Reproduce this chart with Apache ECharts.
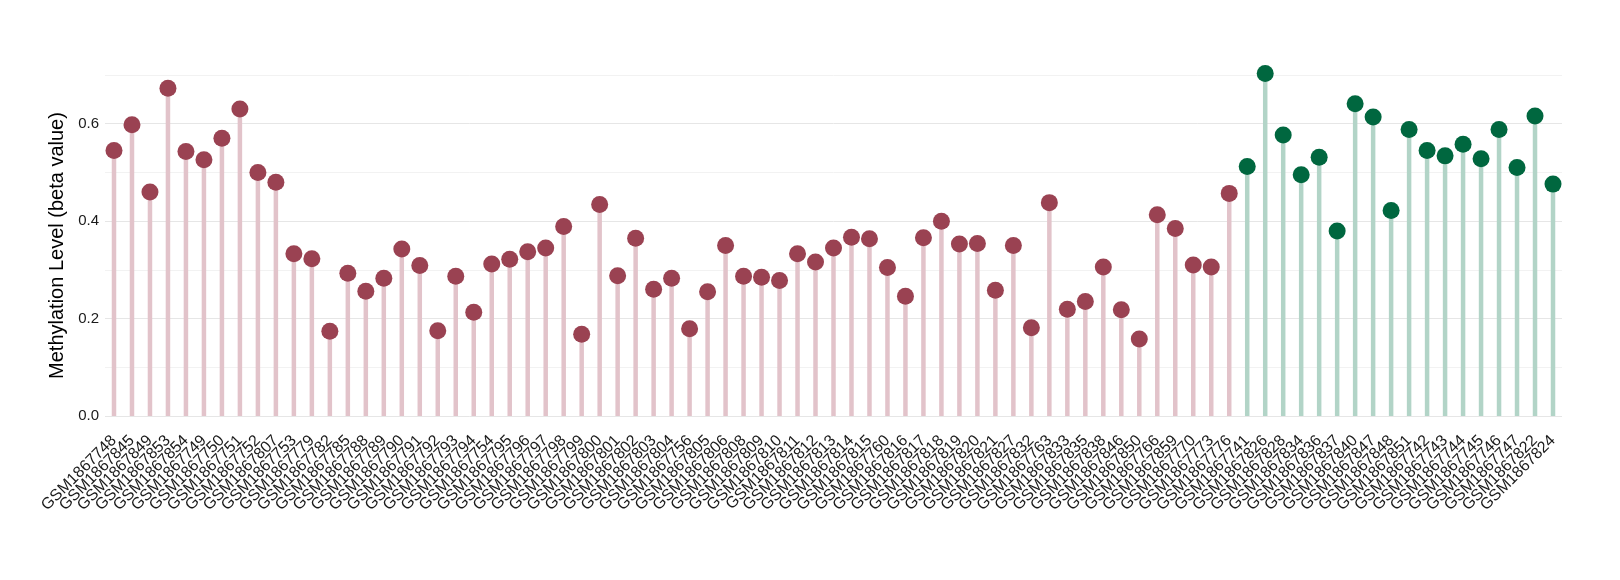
<!DOCTYPE html>
<html>
<head>
<meta charset="utf-8">
<script src="https://cdn.jsdelivr.net/npm/echarts@6/dist/echarts.min.js"></script>
<style>
html,body{margin:0;padding:0;background:#fff;}
#chart{width:1620px;height:580px;}
</style>
</head>
<body>
<div id="chart"></div>
<script>
// Group 1 (red) samples
const groupACategories = ["GSM1867748","GSM1867845","GSM1867849","GSM1867853","GSM1867854","GSM1867749","GSM1867750","GSM1867751","GSM1867752","GSM1867807","GSM1867753","GSM1867779","GSM1867782","GSM1867785","GSM1867788","GSM1867789","GSM1867790","GSM1867791","GSM1867792","GSM1867793","GSM1867794","GSM1867754","GSM1867795","GSM1867796","GSM1867797","GSM1867798","GSM1867799","GSM1867800","GSM1867801","GSM1867802","GSM1867803","GSM1867804","GSM1867756","GSM1867805","GSM1867806","GSM1867808","GSM1867809","GSM1867810","GSM1867811","GSM1867812","GSM1867813","GSM1867814","GSM1867815","GSM1867760","GSM1867816","GSM1867817","GSM1867818","GSM1867819","GSM1867820","GSM1867821","GSM1867827","GSM1867832","GSM1867763","GSM1867833","GSM1867835","GSM1867838","GSM1867846","GSM1867850","GSM1867766","GSM1867859","GSM1867770","GSM1867773","GSM1867776"];
const groupAValues = [0.545,0.598,0.460,0.673,0.543,0.526,0.570,0.630,0.500,0.480,0.333,0.323,0.174,0.293,0.256,0.283,0.343,0.309,0.175,0.287,0.213,0.312,0.322,0.337,0.345,0.389,0.168,0.434,0.288,0.365,0.260,0.283,0.179,0.255,0.350,0.287,0.285,0.278,0.333,0.316,0.345,0.367,0.364,0.305,0.246,0.366,0.400,0.353,0.354,0.258,0.350,0.181,0.438,0.219,0.235,0.306,0.218,0.158,0.413,0.385,0.310,0.306,0.457];
// Group 2 (green) samples
const groupBCategories = ["GSM1867741","GSM1867826","GSM1867828","GSM1867834","GSM1867836","GSM1867837","GSM1867840","GSM1867847","GSM1867848","GSM1867851","GSM1867742","GSM1867743","GSM1867744","GSM1867745","GSM1867746","GSM1867747","GSM1867822","GSM1867824"];
const groupBValues = [0.512,0.703,0.577,0.495,0.531,0.380,0.641,0.614,0.422,0.588,0.545,0.534,0.558,0.528,0.588,0.510,0.616,0.476];

const colors = {
  A: {dot: '#9a4252', stem: '#e2c3ca'},
  B: {dot: '#00673f', stem: '#b2d4c7'}
};

const categories = groupACategories.concat(groupBCategories);
const stemData = [], dotData = [];
groupAValues.forEach(v => {
  stemData.push({value: v, itemStyle: {color: colors.A.stem}});
  dotData.push({value: v, itemStyle: {color: colors.A.dot, opacity: 1}});
});
groupBValues.forEach(v => {
  stemData.push({value: v, itemStyle: {color: colors.B.stem}});
  dotData.push({value: v, itemStyle: {color: colors.B.dot, opacity: 1}});
});

const chart = echarts.init(document.getElementById('chart'), null, {renderer: 'canvas'});
const font = 'Liberation Sans, Arial, Helvetica, sans-serif';
chart.setOption({
  animation: false,
  backgroundColor: '#ffffff',
  grid: {left: 105, right: 58, top: 75, bottom: 164, containLabel: false},
  xAxis: {
    type: 'category',
    data: categories,
    boundaryGap: true,
    axisLine: {show: false},
    axisTick: {show: false},
    splitLine: {show: false},
    axisLabel: {
      interval: 0,
      rotate: 45,
      fontSize: 16,
      fontFamily: font,
      color: '#1a1a1a',
      margin: 22
    }
  },
  yAxis: {
    type: 'value',
    min: 0,
    max: 0.7,
    interval: 0.1,
    name: 'Methylation Level (beta value)',
    nameLocation: 'middle',
    nameGap: 33,
    nameTextStyle: {fontSize: 20, fontFamily: font, color: '#000'},
    axisLine: {show: false},
    axisTick: {show: false},
    axisLabel: {
      fontSize: 15,
      fontFamily: font,
      color: '#1a1a1a',
      margin: 6,
      formatter: function (v) {
        const k = Math.round(v * 10);
        return k % 2 === 0 ? (k / 10).toFixed(1) : '';
      }
    },
    splitLine: {show: true, lineStyle: {color: ['#e6e6e6', '#f2f2f2'], width: 1}}
  },
  series: [
    {
      type: 'bar',
      data: stemData,
      barWidth: 4.5,
      barGap: '-100%',
      silent: true,
      z: 2
    },
    {
      type: 'scatter',
      data: dotData,
      symbol: 'circle',
      symbolSize: 17,
      clip: false,
      z: 3
    }
  ]
});
</script>
</body>
</html>
